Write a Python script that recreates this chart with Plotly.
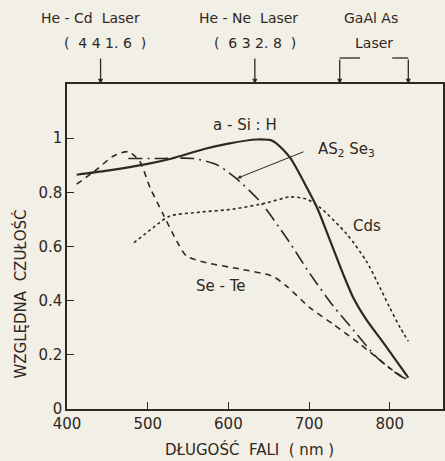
import plotly.graph_objects as go

# ---- data ----
asih_wl = [412, 450, 500, 530, 570, 600, 635, 655, 676, 695, 710, 725, 742, 755, 771, 792, 823]
asih_val = [0.865, 0.88, 0.905, 0.925, 0.96, 0.98, 0.995, 0.99, 0.93, 0.83, 0.743, 0.63, 0.50, 0.41, 0.33, 0.245, 0.116]

as2se3_wl = [476, 520, 556, 585, 609, 639, 672, 701, 730, 751, 784, 813, 822]
as2se3_val = [0.925, 0.925, 0.925, 0.903, 0.853, 0.767, 0.632, 0.50, 0.38, 0.306, 0.19, 0.122, 0.11]

sete_wl = [412, 437, 457, 476, 490, 503, 519, 536, 548, 573, 614, 655, 672, 701, 730, 763, 805, 818]
sete_val = [0.83, 0.885, 0.933, 0.95, 0.915, 0.817, 0.72, 0.62, 0.565, 0.54, 0.517, 0.49, 0.454, 0.374, 0.313, 0.24, 0.14, 0.115]

cds_wl = [483, 507, 527, 565, 606, 647, 676, 697, 714, 747, 771, 784, 800, 813, 823]
cds_val = [0.614, 0.67, 0.712, 0.727, 0.738, 0.761, 0.783, 0.775, 0.743, 0.645, 0.546, 0.472, 0.374, 0.30, 0.25]

laser_lines = [441.6, 632.8]
laser_names = ["He - Cd  Laser", "He - Ne  Laser"]
laser_wl_labels = ["(  4 4 1. 6  )", "(  6 3 2. 8  )"]
gaalas_range = [738, 823]

x_ticks = [400, 500, 600, 700, 800]
y_ticks = [0, 0.2, 0.4, 0.6, 0.8, 1]
y_tick_text = ["0", "0.2", "0.4", "0.6", "0.8", "1"]

INK = "#2f2722"
BG = "#f2efe6"
FONT = "DejaVu Sans"

fig = go.Figure()
fig.add_trace(go.Scatter(x=asih_wl, y=asih_val, mode="lines",
                         line=dict(color=INK, width=2.2, shape="spline", smoothing=0.7)))
fig.add_trace(go.Scatter(x=as2se3_wl, y=as2se3_val, mode="lines",
                         line=dict(color=INK, width=1.6, dash="14px,5px,2px,5px", shape="spline", smoothing=0.7)))
fig.add_trace(go.Scatter(x=sete_wl, y=sete_val, mode="lines",
                         line=dict(color=INK, width=1.6, dash="6px,5px", shape="spline", smoothing=0.7)))
fig.add_trace(go.Scatter(x=cds_wl, y=cds_val, mode="lines",
                         line=dict(color=INK, width=1.6, dash="dot", shape="spline", smoothing=0.7)))

ann = []
shapes = []
tf = dict(size=14, color=INK, family=FONT)
# laser arrows
for xl in laser_lines:
    ann.append(dict(x=xl, y=1, xref="x", yref="paper", text="", showarrow=True,
                    ax=0, ay=-27, arrowhead=2, arrowsize=0.8, arrowwidth=1.3, arrowcolor=INK))
for xl, name, lab, dx1, dx2 in zip(laser_lines, laser_names, laser_wl_labels, [-10, -6], [4, 0]):
    ann.append(dict(x=xl, y=1, xref="x", yref="paper", yanchor="middle", yshift=66, xshift=dx1,
                    text=name, showarrow=False, font=tf))
    ann.append(dict(x=xl, y=1, xref="x", yref="paper", yanchor="middle", yshift=41, xshift=dx2,
                    text=lab, showarrow=False, font=tf))
# GaAlAs bracket
for xg in gaalas_range:
    ann.append(dict(x=xg, y=1, xref="x", yref="paper", text="", showarrow=True,
                    ax=0, ay=-26, arrowhead=2, arrowsize=0.8, arrowwidth=1.3, arrowcolor=INK))
shapes.append(dict(type="line", xref="x", yref="paper", x0=gaalas_range[0], x1=gaalas_range[0] + 25,
                   y0=1.08, y1=1.08, line=dict(color=INK, width=1.3)))
shapes.append(dict(type="line", xref="x", yref="paper", x0=gaalas_range[1] - 20, x1=gaalas_range[1],
                   y0=1.08, y1=1.08, line=dict(color=INK, width=1.3)))
mid = (gaalas_range[0] + gaalas_range[1]) / 2
ann.append(dict(x=mid, y=1, xref="x", yref="paper", yanchor="middle", yshift=66, xshift=-3,
                text="GaAl As", showarrow=False, font=tf))
ann.append(dict(x=mid, y=1, xref="x", yref="paper", yanchor="middle", yshift=41,
                text="Laser", showarrow=False, font=tf))

# curve labels
lf = dict(size=15, color=INK, family=FONT)
ann.append(dict(x=620, y=1.05, xref="x", yref="y", text="a - Si : H", showarrow=False, font=lf))
ann.append(dict(x=611, y=0.852, xref="x", yref="y", ax=695, ay=0.952, axref="x", ayref="y",
                text="", showarrow=True, arrowhead=2, arrowsize=0.8, arrowwidth=1.0, arrowcolor=INK))
ann.append(dict(x=746, y=0.96, xref="x", yref="y", text="AS<sub>2</sub> Se<sub>3</sub>",
                showarrow=False, font=lf))
ann.append(dict(x=772, y=0.675, xref="x", yref="y", text="Cds", showarrow=False, font=lf))
ann.append(dict(x=591, y=0.455, xref="x", yref="y", text="Se - Te", showarrow=False, font=lf))

# axis titles
af = dict(size=15, color=INK, family=FONT)
ann.append(dict(x=0, y=0.5, xref="paper", yref="paper", xanchor="center", yanchor="middle",
                xshift=-47, yshift=-48, textangle=-90,
                text="WZGLĘDNA  CZUŁOŚĆ", showarrow=False, font=af))
ann.append(dict(x=0.5, y=0, xref="paper", yref="paper", xanchor="center", yanchor="middle",
                yshift=-40, xshift=-6,
                text="DŁUGOŚĆ  FALI  ( nm )", showarrow=False, font=af))

fig.update_layout(
    width=445, height=461,
    margin=dict(l=67, r=2, t=84, b=52),
    paper_bgcolor=BG, plot_bgcolor=BG,
    showlegend=False,
    font=dict(family=FONT, color=INK, size=13),
    annotations=ann, shapes=shapes,
)
fig.update_xaxes(range=[400, 866], tickvals=x_ticks, ticks="inside", ticklen=7, tickwidth=1.3,
                 tickcolor=INK, showline=True, linecolor=INK, linewidth=1.5, mirror=True,
                 showgrid=False, zeroline=False, tickfont=dict(size=15), automargin=False)
fig.update_yaxes(range=[0, 1.2], tickvals=y_ticks, ticktext=y_tick_text, ticks="inside", ticklen=7,
                 tickwidth=1.3, tickcolor=INK, showline=True, linecolor=INK, linewidth=1.5, mirror=True,
                 showgrid=False, zeroline=False, tickfont=dict(size=15), automargin=False)

fig.write_html("out.html", config={"displayModeBar": False},
               post_script="document.body.style.margin='0px';document.body.style.background='%s';" % BG)
